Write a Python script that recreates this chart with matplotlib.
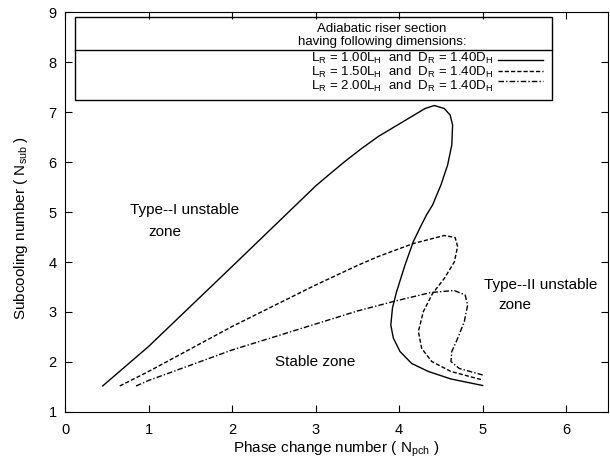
import numpy as np
import matplotlib; matplotlib.use("Agg")
import matplotlib.pyplot as plt
from matplotlib.patches import Rectangle
from matplotlib.lines import Line2D

plt.rcParams['font.family'] = ['Liberation Sans', 'DejaVu Sans']
plt.rcParams['mathtext.default'] = 'regular'

# L_R = 1.00 L_H (solid)
x_100 = [0.45, 1.0, 2.0, 3.0, 3.155, 3.35, 3.55, 3.75, 3.95, 4.15, 4.31, 4.42, 4.54, 4.61, 4.64, 4.63, 4.58, 4.5,
         4.4, 4.33, 4.26, 4.17, 4.07, 3.97, 3.92, 3.9, 3.93, 4.01, 4.15, 4.35, 4.62, 5.0]
y_100 = [1.52, 2.31, 3.91, 5.52, 5.74, 6.01, 6.27, 6.51, 6.71, 6.91, 7.07, 7.13, 7.07, 6.94, 6.74, 6.34, 5.94, 5.54,
         5.14, 4.95, 4.72, 4.41, 3.94, 3.41, 3.08, 2.74, 2.48, 2.21, 1.97, 1.81, 1.66, 1.53]
# L_R = 1.50 L_H (dashed)
x_150 = [0.655, 1.0, 2.0, 3.0, 3.5, 3.75, 4.17, 4.54, 4.67, 4.70, 4.66, 4.54, 4.40, 4.29, 4.23, 4.27, 4.39, 4.62, 5.0]
y_150 = [1.52, 1.81, 2.71, 3.54, 3.93, 4.11, 4.37, 4.53, 4.49, 4.31, 4.0, 3.67, 3.37, 3.01, 2.61, 2.27, 2.01, 1.81, 1.64]
# L_R = 2.00 L_H (dash-dot)
x_200 = [0.85, 1.0, 2.0, 3.0, 3.5, 3.75, 3.93, 4.38, 4.66, 4.79, 4.82, 4.78, 4.70, 4.63, 4.62, 4.72, 5.0]
y_200 = [1.52, 1.63, 2.24, 2.76, 3.02, 3.13, 3.21, 3.39, 3.43, 3.34, 3.14, 2.81, 2.47, 2.21, 2.01, 1.87, 1.74]

labels = [r'L$_R$ = 1.00L$_H$  and  D$_R$ = 1.40D$_H$',
          r'L$_R$ = 1.50L$_H$  and  D$_R$ = 1.40D$_H$',
          r'L$_R$ = 2.00L$_H$  and  D$_R$ = 1.40D$_H$']
styles = ['-', (0, (3, 1.5)), (0, (4, 1.5, 1, 1.5))]

fig = plt.figure(figsize=(6.10, 4.66), dpi=100)
ax = fig.add_axes([0.1066, 0.1159, 0.8901, 0.8583])

for xs, ys, ls in zip([x_100, x_150, x_200], [y_100, y_150, y_200], styles):
    ax.plot(xs, ys, color='black', linestyle=ls, linewidth=1.0)

ax.set_xlim(0, 6.5)
ax.set_ylim(1, 9)
ax.set_xticks(range(0, 7))
ax.set_yticks(range(1, 10))
ax.tick_params(direction='in', top=True, right=True, labelsize=10.5, length=5)
ax.tick_params(axis='x', pad=8)
ax.tick_params(axis='y', pad=6)
ax.set_xlabel(r'Phase change number ( N$_{pch}$ )', fontsize=11, labelpad=2)
ax.set_ylabel(r'Subcooling number ( N$_{sub}$ )', fontsize=11)
ax.yaxis.set_label_coords(-0.064, 0.46)

# legend box drawn by hand
ax.add_patch(Rectangle((0.12, 7.24), 5.71, 1.66, fill=False, edgecolor='black', linewidth=1.0, zorder=3))
ax.plot([0.12, 5.83], [8.24, 8.24], color='black', linewidth=1.0)
ax.text(0.584, 0.95, 'Adiabatic riser section', transform=ax.transAxes, ha='center', va='baseline', fontsize=9.5)
ax.text(0.584, 0.9175, 'having following dimensions:', transform=ax.transAxes, ha='center', va='baseline', fontsize=9.5)
ax.text(0.788, 0.805, '\n'.join(labels), transform=ax.transAxes, ha='right', va='baseline',
        multialignment='right', fontsize=9.5, linespacing=0.92)
for yb, ls in zip([0.88, 0.8525, 0.8275], styles):
    ax.add_line(Line2D([0.797, 0.880], [yb, yb], transform=ax.transAxes,
                       color='black', linestyle=ls, linewidth=1.0))

ax.text(1.43, 5.04, 'Type--I unstable', ha='center', va='center', fontsize=11)
ax.text(1.19, 4.6, 'zone', ha='center', va='center', fontsize=11)
ax.text(2.99, 2.0, 'Stable zone', ha='center', va='center', fontsize=11)
ax.text(5.69, 3.54, 'Type--II unstable', ha='center', va='center', fontsize=11)
ax.text(5.39, 3.14, 'zone', ha='center', va='center', fontsize=11)

fig.savefig('out.png', dpi=100)
